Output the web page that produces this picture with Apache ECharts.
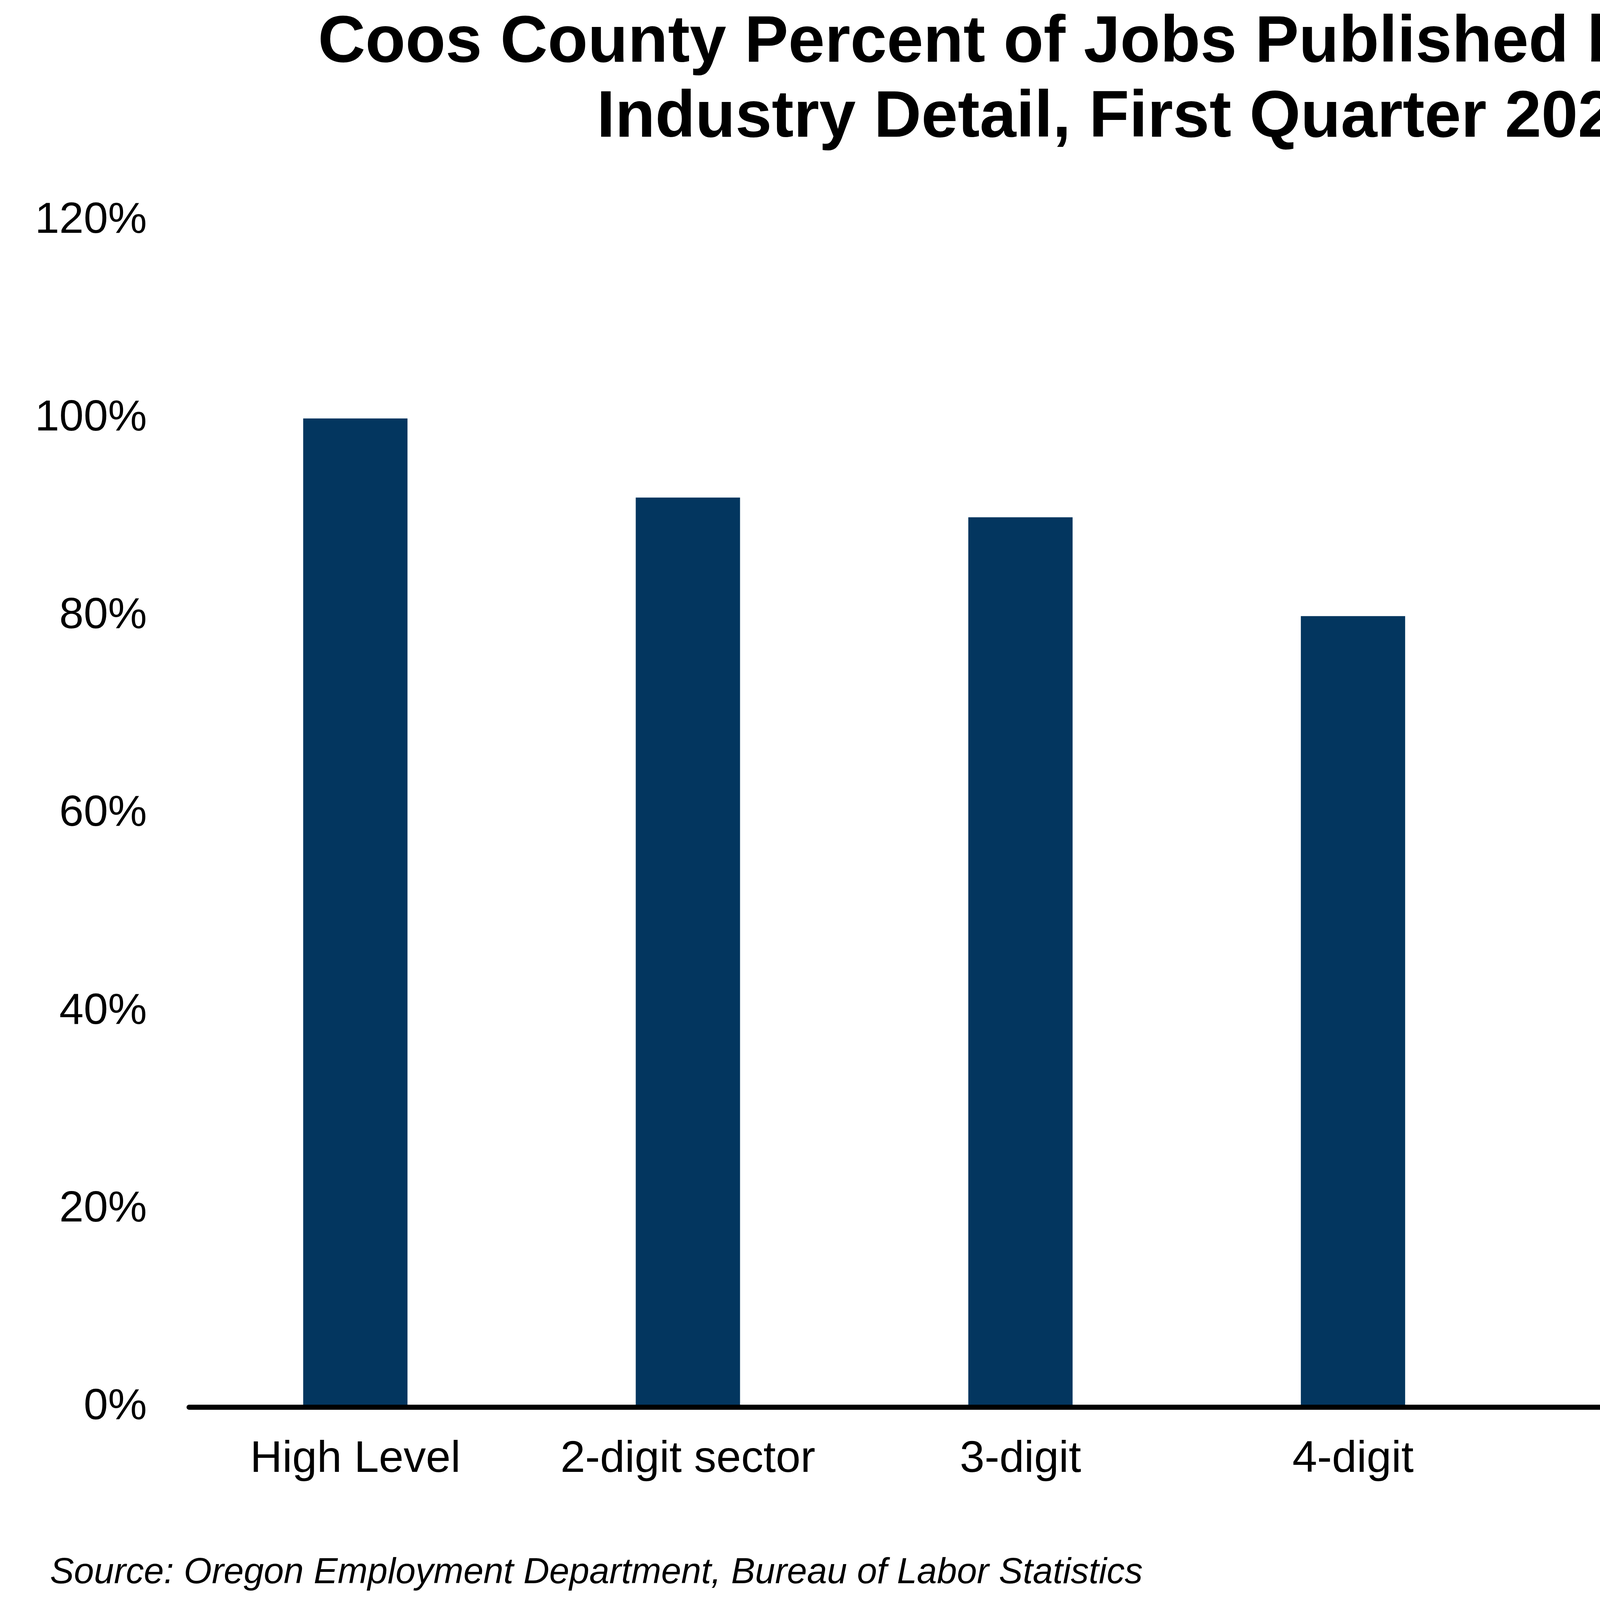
<!DOCTYPE html>
<html>
<head>
<meta charset="utf-8">
<script src="https://cdn.jsdelivr.net/npm/echarts@6/dist/echarts.min.js"></script>
<style>
  html, body { margin: 0; padding: 0; background: #fff; }
  #chart { width: 5680px; height: 4113px; }
</style>
</head>
<body>
<div id="chart"></div>
<script>
var categories = ['High Level', '2-digit sector', '3-digit', '4-digit', '5-digit', '6-digit'];
var pctPublished = [100, 92, 90, 80, 57, 46];
var titleLines = ['Coos County Percent of Jobs Published by Level of', 'Industry Detail, First Quarter 2026'];
var sourceNote = 'Source: Oregon Employment Department, Bureau of Labor Statistics';

var FONT = '"Liberation Sans", Arial, Helvetica, sans-serif';
var BAR_COLOR = '#03365f';

var chart = echarts.init(document.getElementById('chart'));

var option = {
  backgroundColor: '#fff',
  animation: false,
  grid: {
    left: 484,
    right: 88,
    top: 565,
    bottom: 511
  },
  graphic: [
    {
      type: 'text',
      x: 2877,
      y: 112,
      style: {
        text: titleLines[0],
        font: 'bold 168px ' + FONT,
        fill: '#000',
        textAlign: 'center',
        textVerticalAlign: 'middle'
      }
    },
    {
      type: 'text',
      x: 2877,
      y: 304,
      style: {
        text: titleLines[1],
        font: 'bold 168px ' + FONT,
        fill: '#000',
        textAlign: 'center',
        textVerticalAlign: 'middle'
      }
    },
    {
      type: 'text',
      x: 128,
      y: 4027,
      style: {
        text: sourceNote,
        font: 'italic 92px ' + FONT,
        fill: '#000',
        textAlign: 'left',
        textVerticalAlign: 'middle'
      }
    }
  ],
  xAxis: {
    type: 'category',
    data: categories,
    z: 5,
    axisLine: { show: true, lineStyle: { color: '#000', width: 13 } },
    axisTick: { show: false },
    axisLabel: {
      color: '#000',
      fontFamily: FONT,
      fontSize: 114,
      margin: 78,
      interval: 0
    },
    splitLine: { show: false }
  },
  yAxis: {
    type: 'value',
    min: 0,
    max: 120,
    interval: 20,
    axisLine: { show: false },
    axisTick: { show: false },
    splitLine: { show: false },
    axisLabel: {
      color: '#000',
      fontFamily: FONT,
      fontSize: 112,
      margin: 108,
      formatter: '{value}%'
    }
  },
  series: [
    {
      type: 'bar',
      data: pctPublished,
      barWidth: 267,
      itemStyle: { color: BAR_COLOR },
      label: { show: false }
    }
  ]
};

chart.setOption(option);
</script>
</body>
</html>
